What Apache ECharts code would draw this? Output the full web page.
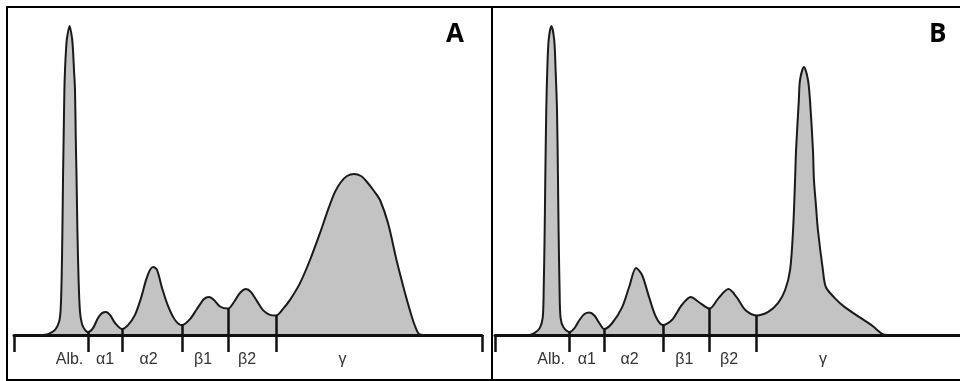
<!DOCTYPE html>
<html>
<head>
<meta charset="utf-8">
<script src="https://cdn.jsdelivr.net/npm/echarts@6/dist/echarts.min.js"></script>
<style>
  html, body { margin: 0; padding: 0; background: #fff; }
  #chart { width: 960px; height: 381px; }
</style>
</head>
<body>
<div id="chart"></div>
<script>
// densitometer traces, mobility (x) vs. density (y), arbitrary units
const posA = [13, 17, 20.5, 22.5, 23.3, 23.8, 24.2, 24.5, 24.8, 25.2, 25.5, 26, 26.5, 27.8, 29, 29.5, 30, 30.5, 30.9, 31.3, 31.7, 32.3, 33, 34, 35.5, 37,
  39.5, 42, 44, 46, 48, 50.5, 54,
  57, 60.5, 63.5, 66, 68, 69.5, 71.5, 74, 77, 80.5, 84,
  88, 91.5, 95, 97.5, 100, 103, 107,
  110, 113, 116, 118.5, 121.5, 124.5, 128, 131,
  134.5, 138, 143, 148, 153, 157, 160.5, 163.5, 166.5, 170, 173.5, 176.5, 180, 183, 187, 191.5, 195.5, 198.5, 200.5, 202.5, 205];
const densA = [0, 0.3, 1.7, 4.3, 8.3, 18.3, 35, 51.7, 65, 81.7, 88.3, 95, 99, 103, 99, 95, 88.3, 81.7, 65, 51.7, 35, 18.3, 7.7, 3.7, 1.7, 1,
  2.3, 5.7, 7.3, 7.7, 6.7, 4, 2,
  3.3, 6.7, 12.3, 18.3, 21.7, 22.7, 21.7, 15.7, 9.7, 5, 3.3,
  5.3, 8.7, 12, 12.7, 11.7, 9.5, 8.8,
  11, 14, 15.3, 14.3, 11.3, 8.3, 6.7, 6.5,
  8.7, 11.7, 17.3, 25, 34, 41.7, 47.7, 51, 53, 53.7, 53, 51, 48, 45, 37.3, 24.3, 14, 7, 3, 0.3, 0];

const posB = [17.5, 20, 22.5, 24, 24.5, 25, 25.3, 25.8, 26.3, 27, 28.4, 29.8, 30.5, 31.2, 31.7, 32, 32.5, 33, 34.5, 37.5,
  40, 42.5, 45, 47.5, 50, 52.5, 55,
  59, 64, 67.5, 71, 74, 77.5, 81, 84.5,
  89, 94, 98.5, 102.5, 108,
  112.5, 117.5, 121.5, 126, 131.5,
  137.5, 142.5, 146, 148.5, 150, 151, 151.5, 152.9, 153.5, 155.5, 157.5, 158.5, 160, 160.5, 161.5, 162.5, 165, 166.5, 171, 176, 184, 190, 195, 197.5];
const densB = [0, 0.7, 2.3, 5.7, 15, 35, 51.7, 75, 88.3, 98.3, 103, 98.3, 88.3, 75, 51.7, 35, 15, 5.7, 2.5, 1,
  2.3, 5, 7, 7.5, 6.5, 4, 2,
  4, 9.3, 16, 22.3, 20, 12.7, 6, 3.3,
  5, 10, 12.7, 11, 8.8,
  12.3, 15.3, 12.7, 8.3, 6.5,
  7.7, 10.7, 15, 21.7, 35, 51.7, 61.7, 78.3, 85, 89.3, 85, 78.3, 61.7, 51.7, 43.3, 35, 21.7, 16, 12.3, 9.3, 5.7, 3, 0.3, 0];

// fraction boundaries and the trace height where each boundary meets the curve
const cutsA = [37, 54, 84, 107, 131];
const cutTopA = [1, 2, 3.3, 8.8, 6.5];
const cutsB = [37.5, 55, 84.5, 108, 131.5];
const cutTopB = [1, 2, 3.3, 8.8, 6.5];

const fractions = ["Alb.", "α1", "α2", "β1", "β2", "γ"];
const labelPosA = [27.75, 45.5, 67.25, 94.5, 116.5, 164.25];
const labelPosB = [28.25, 46.25, 67.75, 95.25, 117.75, 165];

const X_MAX = 234;
const Y_MAX = 103;

const chart = echarts.init(document.getElementById("chart"), null, { renderer: "canvas" });

function zip(xs, ys) {
  return xs.map((x, i) => [x, ys[i]]);
}

function makeX(gridIndex, ticks, labelPos) {
  return {
    gridIndex,
    type: "value",
    min: 0,
    max: X_MAX,
    z: 3,
    splitLine: { show: false },
    axisLine: { show: true, lineStyle: { color: "#111", width: 3 } },
    axisTick: { show: true, customValues: ticks, length: 17, lineStyle: { color: "#111", width: 2.5 } },
    axisLabel: {
      show: true,
      customValues: labelPos,
      margin: 17,
      color: "#333",
      fontFamily: "Liberation Sans",
      fontSize: 16,
      formatter: (v) => {
        const i = labelPos.findIndex((p) => Math.abs(p - v) < 0.01);
        return i < 0 ? "" : fractions[i];
      },
    },
  };
}

function makeSeries(idx, xs, ys, cuts, tops) {
  return {
    type: "line",
    xAxisIndex: idx,
    yAxisIndex: idx,
    data: zip(xs, ys),
    smooth: 0.3,
    symbol: "none",
    lineStyle: { color: "#1a1a1a", width: 2 },
    areaStyle: { color: "#c3c3c3", opacity: 1 },
    markLine: {
      silent: true,
      symbol: "none",
      label: { show: false },
      lineStyle: { color: "#111", width: 2.5, type: "solid" },
      data: cuts.map((c, i) => [{ coord: [c, 0] }, { coord: [c, tops[i]] }]),
    },
  };
}

chart.setOption({
  animation: false,
  backgroundColor: "#fff",
  title: [
    { text: "A", left: 446, top: 22, padding: 0, textStyle: { fontFamily: "Open Sans", fontWeight: "bold", fontSize: 26, color: "#000" } },
    { text: "B", left: 929, top: 22, padding: 0, textStyle: { fontFamily: "Open Sans", fontWeight: "bold", fontSize: 26, color: "#000" } },
  ],
  grid: [
    { left: 14, top: 26, width: 468, height: 309 },
    { left: 495, top: 26, width: 468, height: 309 },
  ],
  xAxis: [
    makeX(0, [0].concat(cutsA, [X_MAX]), labelPosA),
    makeX(1, [0].concat(cutsB), labelPosB),
  ],
  yAxis: [
    { gridIndex: 0, type: "value", min: 0, max: Y_MAX, show: false },
    { gridIndex: 1, type: "value", min: 0, max: Y_MAX, show: false },
  ],
  series: [
    makeSeries(0, posA, densA, cutsA, cutTopA),
    makeSeries(1, posB, densB, cutsB, cutTopB),
  ],
  graphic: [
    { type: "rect", z: 10, shape: { x: 7, y: 7, width: 1000, height: 373 }, style: { fill: null, stroke: "#000", lineWidth: 2 } },
    { type: "line", z: 10, shape: { x1: 492, y1: 7, x2: 492, y2: 380 }, style: { stroke: "#000", lineWidth: 2 } },
  ],
});
</script>
</body>
</html>
